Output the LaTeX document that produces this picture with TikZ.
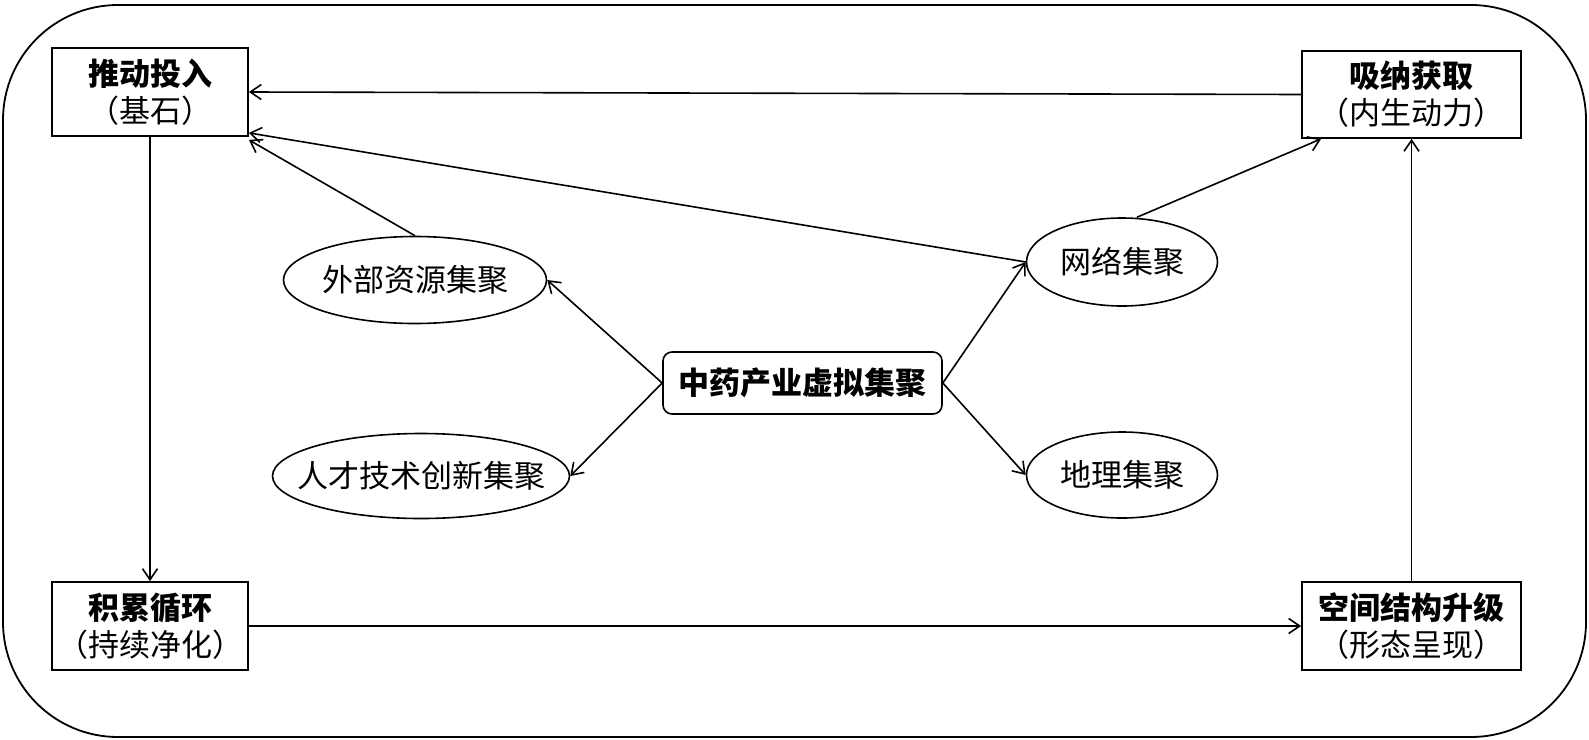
\documentclass[tikz,border=0pt]{standalone}
\usepackage{fontspec}
\setmainfont{Noto Sans CJK SC}
\usetikzlibrary{shapes.geometric,arrows.meta}
\tikzset{
  txt/.style={font=\fontsize{31}{37}\selectfont},
  box/.style={draw, line width=1.8pt, rectangle, align=center, txt, inner sep=0pt},
  hubbox/.style={draw, line width=1.6pt, rectangle, rounded corners=9pt, align=center, txt, inner sep=0pt, font=\fontsize{31}{37}\selectfont\bfseries},
  oval/.style={draw, line width=1.6pt, ellipse, inner sep=0pt},
  arr/.style={line width=1.6pt, -{Straight Barb[length=11pt,width=15pt,line width=1.6pt]}},
}
\begin{document}
\begin{tikzpicture}[x=1pt,y=-1pt]
\useasboundingbox (0,0) rectangle (1589,739);
\draw[line width=1.8pt, rounded corners=115pt] (3,5) rectangle (1586,737);

\node[box, minimum width=196pt, minimum height=88pt] (tui) at (150,92) {{\bfseries 推动投入}\\（基石）};
\node[box, minimum width=219pt, minimum height=87pt] (xn) at (1411.5,94.5) {{\bfseries 吸纳获取}\\（内生动力）};
\node[box, minimum width=196pt, minimum height=88pt] (ji) at (150,626) {{\bfseries 积累循环}\\（持续净化）};
\node[box, minimum width=219pt, minimum height=88pt] (kj) at (1411.5,626) {{\bfseries 空间结构升级}\\（形态呈现）};

\node[hubbox, minimum width=279pt, minimum height=62pt] (hub) at (802.5,383) {中药产业虚拟集聚};

\node[oval, minimum width=263pt, minimum height=87pt, label={[txt]center:外部资源集聚}] (ext) at (415,280) {};
\node[oval, minimum width=297pt, minimum height=85pt, label={[txt]center:人才技术创新集聚}] (rc) at (421,476) {};
\node[oval, minimum width=191pt, minimum height=88pt, label={[txt]center:网络集聚}] (net) at (1122,262) {};
\node[oval, minimum width=191pt, minimum height=86pt, label={[txt]center:地理集聚}] (geo) at (1122,475) {};

\draw[arr] (xn.west) -- (tui.east);
\draw[arr] (net.west) -- ([yshift=4pt]tui.south east);
\draw[arr] (ext.north) -- ([yshift=-3pt]tui.south east);
\draw[arr] (hub.west) -- (ext.east);
\draw[arr] (hub.west) -- (rc.east);
\draw[arr] (hub.east) -- (net.west);
\draw[arr] (hub.east) -- (geo.west);
\draw[arr] ([xshift=15pt]net.north) -- ([xshift=20pt]xn.south west);
\draw[arr] (kj.north) -- (xn.south);
\draw[arr] (tui.south) -- (ji.north);
\draw[arr] (ji.east) -- (kj.west);
\end{tikzpicture}
\end{document}
